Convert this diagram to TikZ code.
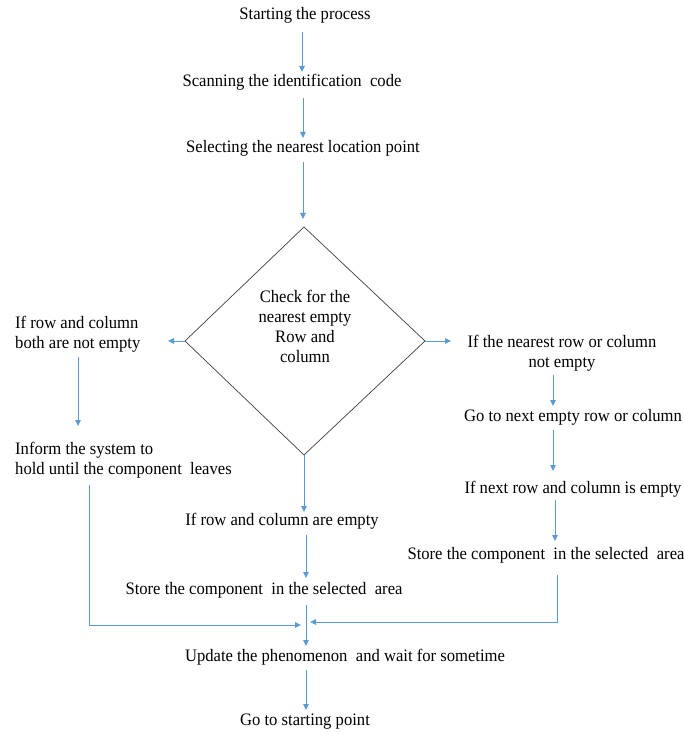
\documentclass[tikz,border=0pt]{standalone}
\usepackage{fontspec}
\setmainfont[FakeStretch=0.95]{Liberation Serif}
\usetikzlibrary{arrows.meta}
\definecolor{arrowblue}{RGB}{91,155,213}
\definecolor{diagray}{RGB}{64,64,64}
\begin{document}
\begin{tikzpicture}[x=1pt,y=-1pt,
  lbl/.style={inner sep=0pt,font=\fontsize{17.5}{20}\selectfont,align=center},
  lbll/.style={lbl,align=left,anchor=west},
  flow/.style={draw=arrowblue,line width=0.9pt,-{Triangle[length=6pt,width=5.5pt]}},
  plain/.style={draw=arrowblue,line width=0.9pt}]
\useasboundingbox (0,0) rectangle (684,735);
\fill[white] (0,0) rectangle (684,735);
% main column
\node[lbl] (start) at (305,15) {Starting the process};
\node[lbl] (scan) at (292,82) {Scanning the identification\ \ code};
\node[lbl] (sel) at (303,148) {Selecting the nearest location point};
% diamond
\coordinate (dt) at (304,227);
\coordinate (dl) at (185,341);
\coordinate (dr) at (425,341);
\coordinate (db) at (304,455);
\draw[diagray,line width=0.7pt] (dt) -- (dr) -- (db) -- (dl) -- cycle;
\node[lbl] (check) at (305,326) {Check for the\\nearest empty\\Row and\\column};
% left branch
\node[lbll] (lnot) at (15,334) {If row and column\\both are not empty};
\node[lbll] (inform) at (15,460) {Inform the system to\\hold until the component\ \ leaves};
% middle branch
\node[lbl] (mempty) at (282,521) {If row and column are empty};
\node[lbl] (mstore) at (264,590) {Store the component\ \ in the selected\ \ area};
% right branch
\node[lbl] (rnot) at (562,353) {If the nearest row or column\\not empty};
\node[lbl] (rgo) at (573,417) {Go to next empty row or column};
\node[lbl] (rnext) at (573,489) {If next row and column is empty};
\node[lbl] (rstore) at (546,555) {Store the component\ \ in the selected\ \ area};
% bottom
\node[lbl] (upd) at (345,657) {Update the phenomenon\ \ and wait for sometime};
\node[lbl] (goto) at (305,722) {Go to starting point};
% connectors
\coordinate (a1s) at (302,32); \coordinate (a1e) at (302,72);
\draw[flow] (a1s) -- (a1e);
\coordinate (a2s) at (303,98); \coordinate (a2e) at (303,138);
\draw[flow] (a2s) -- (a2e);
\coordinate (a3s) at (303,162); \coordinate (a3e) at (303,219);
\draw[flow] (a3s) -- (a3e);
\coordinate (ale) at (168,341);
\draw[flow] (dl) -- (ale);
\coordinate (are) at (451,341);
\draw[flow] (dr) -- (are);
\coordinate (l1s) at (78,357); \coordinate (l1e) at (78,426);
\draw[flow] (l1s) -- (l1e);
\coordinate (l2s) at (89,485); \coordinate (l2c) at (89,625); \coordinate (l2e) at (301,625);
\draw[flow] (l2s) -- (l2c) -- (l2e);
\coordinate (mbe) at (304,512);
\draw[flow] (db) -- (mbe);
\coordinate (m2s) at (306,535); \coordinate (m2e) at (306,578);
\draw[flow] (m2s) -- (m2e);
\coordinate (m3s) at (306,605); \coordinate (m3e) at (306,646);
\draw[flow] (m3s) -- (m3e);
\coordinate (m4s) at (306,670); \coordinate (m4e) at (306,710);
\draw[flow] (m4s) -- (m4e);
\coordinate (r1s) at (553,375); \coordinate (r1e) at (553,406);
\draw[flow] (r1s) -- (r1e);
\coordinate (r2s) at (553,430); \coordinate (r2e) at (553,471);
\draw[flow] (r2s) -- (r2e);
\coordinate (r3s) at (555,500); \coordinate (r3e) at (555,541);
\draw[flow] (r3s) -- (r3e);
\coordinate (r4s) at (557,575); \coordinate (r4c) at (557,622); \coordinate (r4e) at (310,622);
\draw[flow] (r4s) -- (r4c) -- (r4e);
\end{tikzpicture}
\end{document}
